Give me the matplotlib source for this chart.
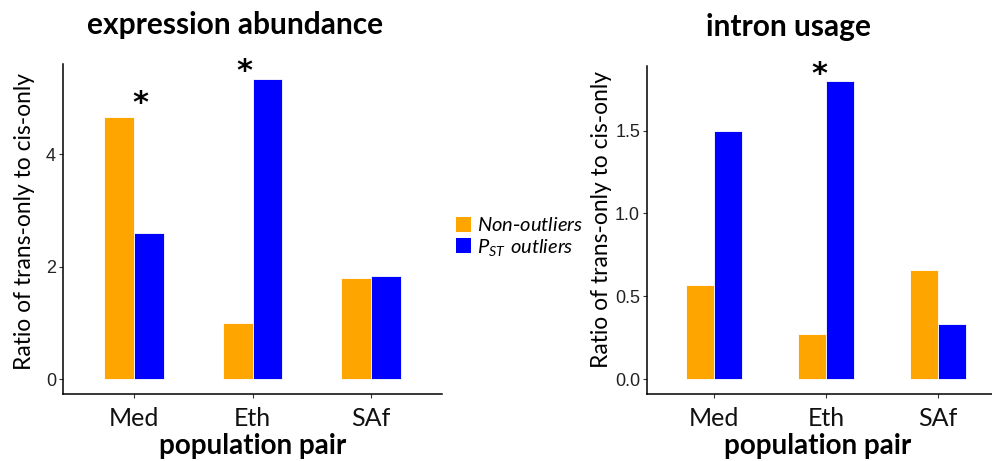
import numpy as np
import matplotlib
matplotlib.use("Agg")
import matplotlib.pyplot as plt
from matplotlib.patches import Patch

# Data
pairs = ["Med", "Eth", "SAf"]
groups = ["Non-outliers", "PST outliers"]
expr_non = [4.66, 1.00, 1.80]
expr_pst = [2.60, 5.34, 1.84]
intron_non = [0.57, 0.27, 0.66]
intron_pst = [1.50, 1.80, 0.33]
expr_ticks = [0, 2, 4]
intron_ticks = [0.0, 0.5, 1.0, 1.5]
# significance marks: (x position, y position)
expr_stars = [(1.05, 4.90), (1.935, 5.47)]
intron_stars = [(1.94, 1.84)]

ORANGE = "#FFA500"
BLUE = "#0000FF"

W, H = 992, 461
fig = plt.figure(figsize=(W / 100, H / 100), dpi=100)

plt.rcParams["mathtext.fontset"] = "custom"
plt.rcParams["mathtext.it"] = "Lato:italic"
plt.rcParams["mathtext.rm"] = "Lato"


def px_axes(x0, x1, ytop, ybot):
    return fig.add_axes([x0 / W, 1 - ybot / H, (x1 - x0) / W, (ybot - ytop) / H])


def draw_panel(ax, non, pst, ticks, fmt, stars):
    x = np.arange(1, len(pairs) + 1)
    bw = 0.25
    ax.bar(x - bw / 2, non, width=bw, color=ORANGE, edgecolor="white", linewidth=0.6)
    ax.bar(x + bw / 2, pst, width=bw, color=BLUE, edgecolor="white", linewidth=0.6)
    top = max(max(non), max(pst))
    ax.set_ylim(-0.05 * top, 1.05 * top)
    ax.set_xlim(0.4, 3.6)
    ax.set_xticks(x)
    ax.set_xticklabels(pairs, fontfamily="Lato", fontsize=18, color="#111111")
    ax.set_yticks(ticks)
    ax.set_yticklabels([fmt.format(t) for t in ticks], fontfamily="Liberation Sans",
                       fontsize=13, color="#222222")
    for s in ["top", "right"]:
        ax.spines[s].set_visible(False)
    for s in ["left", "bottom"]:
        ax.spines[s].set_linewidth(1.1)
        ax.spines[s].set_color("black")
    ax.tick_params(axis="both", length=3, width=0.8, color="#333333")
    ax.tick_params(axis="x", pad=6)
    ax.tick_params(axis="y", pad=2)
    for sx, sy in stars:
        ax.text(sx, sy, "*", ha="center", va="center", fontsize=22,
                fontweight="bold", fontfamily="DejaVu Sans")


ax1 = px_axes(63, 442, 64, 394)
draw_panel(ax1, expr_non, expr_pst, expr_ticks, "{:d}", expr_stars)

ax2 = px_axes(647, 1005, 66, 394)
draw_panel(ax2, intron_non, intron_pst, intron_ticks, "{:.1f}", intron_stars)

# Titles
fig.text(235 / W, 1 - 25 / H, "expression abundance", ha="center", va="center",
         fontfamily="Lato", fontweight="bold", fontsize=21.5)
fig.text(789 / W, 1 - 27 / H, "intron usage", ha="center", va="center",
         fontfamily="Lato", fontweight="bold", fontsize=21.5)

# Axis titles
fig.text(25 / W, 1 - 221 / H, "Ratio of trans-only to cis-only", rotation=90,
         ha="center", va="center", fontfamily="Lato", fontsize=16.4)
fig.text(602 / W, 1 - 219 / H, "Ratio of trans-only to cis-only", rotation=90,
         ha="center", va="center", fontfamily="Lato", fontsize=16.4)
fig.text(253 / W, 1 - 446 / H, "population pair", ha="center", va="center",
         fontfamily="Lato", fontweight="bold", fontsize=20)
fig.text(818 / W, 1 - 446 / H, "population pair", ha="center", va="center",
         fontfamily="Lato", fontweight="bold", fontsize=20)

# Legend
handles = [Patch(facecolor=ORANGE, edgecolor="none"),
           Patch(facecolor=BLUE, edgecolor="none")]
labels = [r"$\mathit{Non}$-$\mathit{outliers}$", r"$\mathit{P}_{\mathit{ST}}$ $\mathit{outliers}$"]
fig.legend(handles, labels, loc="center left", bbox_to_anchor=(456 / W, 1 - 237 / H),
           frameon=False, fontsize=14.5, handlelength=0.75, handleheight=0.75,
           handletextpad=0.3, labelspacing=0.05, borderpad=0, borderaxespad=0)

fig.savefig("out.png", dpi=100)
